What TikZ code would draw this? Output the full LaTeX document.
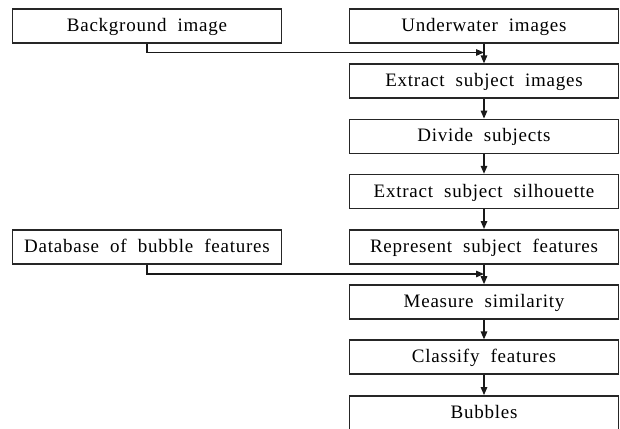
\documentclass[tikz,border=0pt]{standalone}
\usepackage{fontspec}
\setmainfont{Liberation Serif}[LetterSpace=4,WordSpace=2]
\usetikzlibrary{arrows.meta}
\begin{document}
\begin{tikzpicture}[x=1pt,y=-1pt,
  box/.style={draw=black!85,line width=1.6pt,minimum width=269pt,minimum height=34pt,
    inner sep=0pt,text height=13pt,text depth=2pt,font=\fontsize{19}{21}\selectfont},
  conn/.style={draw=black!90,line width=1.4pt,-{Triangle[length=8pt,width=6.5pt]}}]
\useasboundingbox (0,0) rectangle (620,428);
\node[box] (bg) at (147,26) {Background image};
\node[box] (db) at (147,246.8) {Database of bubble features};
\node[box] (und) at (484,26) {Underwater images};
\node[box] (ext) at (484,81.2) {Extract subject images};
\node[box] (div) at (484,136.4) {Divide subjects};
\node[box] (sil) at (484,191.6) {Extract subject silhouette};
\node[box] (rep) at (484,246.8) {Represent subject features};
\node[box] (mea) at (484,302) {Measure similarity};
\node[box] (cla) at (484,357.2) {Classify features};
\node[box] (bub) at (484,412.9) {Bubbles};
\coordinate (j1) at (484,52.5);
\coordinate (j2) at (484,274);
\draw[conn] (bg.south) |- (j1);
\draw[conn] (db.south) |- (j2);
\draw[conn] (und) -- (ext);
\draw[conn] (ext) -- (div);
\draw[conn] (div) -- (sil);
\draw[conn] (sil) -- (rep);
\draw[conn] (rep) -- (mea);
\draw[conn] (mea) -- (cla);
\draw[conn] (cla) -- (bub);
\end{tikzpicture}
\end{document}
